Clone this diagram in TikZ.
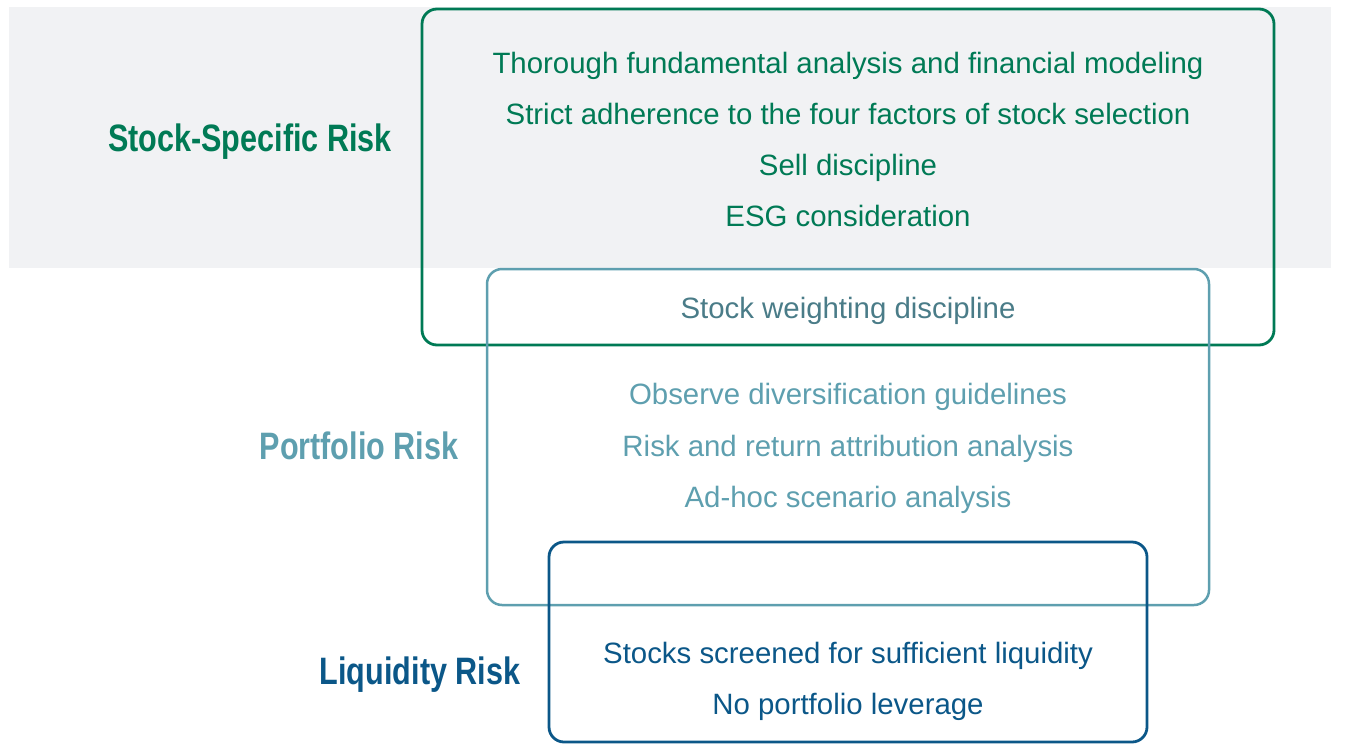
\documentclass[tikz,border=0pt]{standalone}
\usepackage{fontspec}
\setmainfont{Liberation Sans}
\newfontfamily\narrowbold[FakeStretch=0.8]{Liberation Sans Bold}
\definecolor{bandgray}{HTML}{F1F2F4}
\definecolor{ssgreen}{HTML}{007A55}
\definecolor{pteal}{HTML}{5E9FAF}
\definecolor{pdark}{HTML}{4A7C88}
\definecolor{lblue}{HTML}{0B5788}
\tikzset{
  riskbox/.style={draw, rounded corners=15pt, line width=2.8pt, fill=none, inner sep=0pt},
  item/.style={anchor=base, inner sep=0pt, font=\fontsize{29.4}{33}\selectfont},
  risklabel/.style={anchor=base, inner sep=0pt, font=\narrowbold\fontsize{38.2}{42}\selectfont}
}
\begin{document}
\begin{tikzpicture}[x=1pt,y=-1pt]
\useasboundingbox (0,0) rectangle (1359,744);
\fill[bandgray] (9,7) rectangle (1331,268);
\node[riskbox, draw=ssgreen, minimum width=852pt, minimum height=336pt] (green) at (848,177) {};
\node[riskbox, draw=pteal, line width=2.5pt, minimum width=722pt, minimum height=336pt] (teal) at (848,437) {};
\node[riskbox, draw=lblue, minimum width=598pt, minimum height=200pt] (blue) at (848,642) {};
\node[risklabel, text=ssgreen] (l1) at (250,151) {Stock-Specific Risk};
\node[risklabel, text=pteal] (l2) at (359,459) {Portfolio Risk};
\node[risklabel, text=lblue] (l3) at (420,684) {Liquidity Risk};
\node[item, text=ssgreen] (g1) at (848,73) {Thorough fundamental analysis and financial modeling};
\node[item, text=ssgreen] (g2) at (848,124) {Strict adherence to the four factors of stock selection};
\node[item, text=ssgreen] (g3) at (848,175) {Sell discipline};
\node[item, text=ssgreen] (g4) at (848,226) {ESG consideration};
\node[item, text=pdark] (w1) at (848,318) {Stock weighting discipline};
\node[item, text=pteal] (p1) at (848,404) {Observe diversification guidelines};
\node[item, text=pteal] (p2) at (848,456) {Risk and return attribution analysis};
\node[item, text=pteal] (p3) at (848,507) {Ad-hoc scenario analysis};
\node[item, text=lblue] (b1) at (848,663) {Stocks screened for sufficient liquidity};
\node[item, text=lblue] (b2) at (848,714) {No portfolio leverage};
\end{tikzpicture}
\end{document}
